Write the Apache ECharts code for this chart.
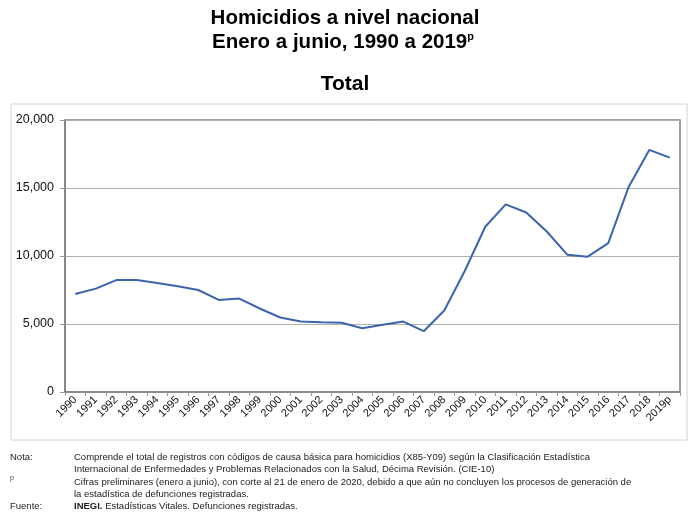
<!DOCTYPE html>
<html>
<head>
<meta charset="utf-8">
<script src="https://cdn.jsdelivr.net/npm/echarts@6/dist/echarts.min.js"></script>
<style>
html,body{margin:0;padding:0;background:#fff;}
#chart{width:700px;height:517px;}
</style>
</head>
<body>
<div id="chart"></div>
<script>
const years = ['1990','1991','1992','1993','1994','1995','1996','1997','1998','1999','2000','2001','2002','2003','2004','2005','2006','2007','2008','2009','2010','2011','2012','2013','2014','2015','2016','2017','2018','2019p'];
const homicides = [7200,7600,8230,8230,8020,7780,7500,6770,6870,6140,5480,5180,5130,5090,4690,4940,5180,4470,5990,8900,12150,13800,13200,11800,10100,9950,10950,15100,17800,17230];
const yTicks = {min:0, max:20000, interval:5000};

const chart = echarts.init(document.getElementById('chart'));
const FONT = 'Liberation Sans, Arial, sans-serif';
const noteStyle = {fontFamily: FONT, fontSize: 9.5, color: '#222', fontWeight: 'normal', lineHeight: 12.2};
const titleFont = {fontFamily: FONT, fontSize: 20.5, fontWeight: 'bold', fill: '#000'};
chart.setOption({
  backgroundColor: '#fff',
  title: [
    {text: 'Nota:', left: 10, top: 451, padding: 0, textStyle: noteStyle},
    {text: 'Comprende el total de registros con códigos de causa básica para homicidios (X85-Y09) según la Clasificación Estadística\nInternacional de Enfermedades y Problemas Relacionados con la Salud, Décima Revisión. (CIE-10)',
      left: 74, top: 451, padding: 0, textStyle: noteStyle},
    {text: 'p', left: 10, top: 475, padding: 0, textStyle: {fontFamily: FONT, fontSize: 7, color: '#444', fontWeight: 'normal'}},
    {text: 'Cifras preliminares (enero a junio), con corte al 21 de enero de 2020, debido a que aún no concluyen los procesos de generación de\nla estadística de defunciones registradas.',
      left: 74, top: 476, padding: 0, textStyle: noteStyle},
    {text: 'Fuente:', left: 10, top: 500, padding: 0, textStyle: noteStyle},
    {text: '{b|INEGI.} Estadísticas Vitales. Defunciones registradas.', left: 74, top: 500, padding: 0,
      textStyle: Object.assign({}, noteStyle, {rich: {b: {fontFamily: FONT, fontSize: 9.5, fontWeight: 'bold', color: '#222'}}})}
  ],
  graphic: [
    {type: 'rect', shape: {x: 11, y: 104, width: 676, height: 336}, style: {fill: 'none', stroke: '#d4d4d4', lineWidth: 1}, z: -1},
    {type: 'text', x: 345, y: 18, style: Object.assign({text: 'Homicidios a nivel nacional', textAlign: 'center', textVerticalAlign: 'middle'}, titleFont)},
    {type: 'text', x: 343, y: 42, style: {
      text: '{a|Enero a junio, 1990 a 2019}{s|p}', textAlign: 'center', textVerticalAlign: 'middle',
      rich: {
        a: {fontFamily: FONT, fontSize: 20.5, fontWeight: 'bold', fill: '#000'},
        s: {fontFamily: FONT, fontSize: 11, fontWeight: 'bold', fill: '#000', verticalAlign: 'top', padding: [0,0,9,0]}
      }}},
    {type: 'text', x: 345, y: 84, style: {text: 'Total', textAlign: 'center', textVerticalAlign: 'middle', fontFamily: FONT, fontSize: 21, fontWeight: 'bold', fill: '#000'}}
  ],
  grid: {left: 65, right: 20, top: 120, bottom: 125, show: true, borderColor: '#808080', borderWidth: 1.5},
  xAxis: {
    type: 'category', data: years, boundaryGap: true,
    axisLine: {show: true, lineStyle: {color: '#808080', width: 1.5}},
    axisTick: {show: true, alignWithLabel: false, length: 4, lineStyle: {color: '#999'}},
    axisLabel: {rotate: 45, interval: 0, fontFamily: FONT, fontSize: 11, color: '#111', margin: 6}
  },
  yAxis: {
    type: 'value', min: yTicks.min, max: yTicks.max, interval: yTicks.interval,
    axisLine: {show: true, lineStyle: {color: '#808080', width: 1.5}},
    axisTick: {show: true, length: 5, lineStyle: {color: '#999'}},
    splitLine: {lineStyle: {color: '#b0b0b0', width: 1}},
    axisLabel: {fontFamily: FONT, fontSize: 12.5, color: '#111', margin: 11,
      formatter: v => v.toLocaleString('en-US')}
  },
  series: [{
    type: 'line', data: homicides, symbol: 'none', smooth: false,
    lineStyle: {color: '#3b64ad', width: 2}, animation: false
  }],
  animation: false
});
</script>
</body>
</html>
